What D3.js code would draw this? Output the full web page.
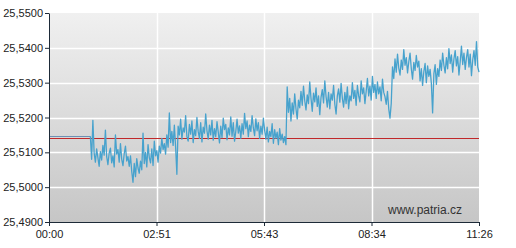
<!DOCTYPE html>
<html>
<head>
<meta charset="utf-8">
<script src="https://cdn.jsdelivr.net/npm/d3@7"></script>
<style>
  body { margin: 0; background: #fff; }
  svg { display: block; font-family: "Liberation Sans", Arial, sans-serif; }
</style>
</head>
<body>
<div id="chart"></div>
<script>
// values (minutes since 00:00)
const prevClose = 25.5146;          // flat line before trading starts
const flatMinutes = [0, 66];
const refLine = 25.5140;            // red line
const startMinute = 68;
const stepMinutes = 2;
const prices = [
  25.5080, 25.5192, 25.5098, 25.5072, 25.5110, 25.5085, 25.5060, 25.5102, 25.5078, 25.5120,
  25.5092, 25.5164, 25.5088, 25.5065, 25.5098, 25.5112, 25.5070, 25.5090, 25.5058, 25.5150,
  25.5095, 25.5108, 25.5072, 25.5125, 25.5080, 25.5062, 25.5096, 25.5118, 25.5075, 25.5088,
  25.5060, 25.5090, 25.5045, 25.5014, 25.5068, 25.5030, 25.5082, 25.5055, 25.5040, 25.5075,
  25.5050, 25.5155, 25.5068, 25.5100, 25.5058, 25.5122, 25.5085, 25.5070, 25.5110, 25.5062,
  25.5132, 25.5090, 25.5105, 25.5072, 25.5118, 25.5098, 25.5140, 25.5108, 25.5125, 25.5095,
  25.5150, 25.5115, 25.5213, 25.5128, 25.5160, 25.5120, 25.5178, 25.5115, 25.5037, 25.5175,
  25.5150, 25.5195, 25.5138, 25.5170, 25.5158, 25.5205, 25.5145, 25.5132, 25.5180, 25.5152,
  25.5190, 25.5128, 25.5165, 25.5148, 25.5200, 25.5160, 25.5140, 25.5185, 25.5130, 25.5172,
  25.5155, 25.5210, 25.5162, 25.5138, 25.5178, 25.5150, 25.5192, 25.5135, 25.5168, 25.5145,
  25.5188, 25.5158, 25.5127, 25.5175, 25.5142, 25.5198, 25.5165, 25.5180, 25.5136, 25.5170,
  25.5150, 25.5202, 25.5146, 25.5185, 25.5132, 25.5160, 25.5195, 25.5155, 25.5176, 25.5140,
  25.5182, 25.5152, 25.5212, 25.5168, 25.5190, 25.5145, 25.5178, 25.5160, 25.5205, 25.5170,
  25.5148, 25.5196, 25.5162, 25.5185, 25.5140, 25.5175, 25.5152, 25.5198, 25.5164, 25.5138,
  25.5172, 25.5130, 25.5160, 25.5145, 25.5182, 25.5126, 25.5165, 25.5140, 25.5158, 25.5122,
  25.5168, 25.5135, 25.5152, 25.5128, 25.5145, 25.5122, 25.5288, 25.5215, 25.5255, 25.5190,
  25.5242, 25.5210, 25.5268, 25.5225, 25.5196, 25.5250, 25.5228, 25.5275, 25.5235, 25.5290,
  25.5248, 25.5222, 25.5265, 25.5240, 25.5302, 25.5255, 25.5218, 25.5270, 25.5245, 25.5285,
  25.5232, 25.5262, 25.5208, 25.5258, 25.5280, 25.5242, 25.5305, 25.5260, 25.5230, 25.5272,
  25.5225, 25.5268, 25.5250, 25.5292, 25.5238, 25.5210, 25.5262, 25.5282, 25.5244, 25.5298,
  25.5255, 25.5230, 25.5272, 25.5240, 25.5288, 25.5225, 25.5262, 25.5248, 25.5300, 25.5255,
  25.5278, 25.5235, 25.5292, 25.5262, 25.5245, 25.5305, 25.5268, 25.5285, 25.5240, 25.5275,
  25.5312, 25.5262, 25.5290, 25.5250, 25.5318, 25.5272, 25.5295, 25.5255, 25.5302, 25.5268,
  25.5288, 25.5248, 25.5310, 25.5272, 25.5260, 25.5238, 25.5275, 25.5225, 25.5198, 25.5240,
  25.5345, 25.5312, 25.5368, 25.5330, 25.5382, 25.5342, 25.5322, 25.5365, 25.5338, 25.5395,
  25.5350, 25.5372, 25.5328, 25.5360, 25.5385, 25.5340, 25.5310, 25.5358, 25.5335, 25.5378,
  25.5345, 25.5362, 25.5305, 25.5340, 25.5292, 25.5332, 25.5355, 25.5300, 25.5348, 25.5318,
  25.5338, 25.5298, 25.5213, 25.5325, 25.5352, 25.5295, 25.5340, 25.5318, 25.5365, 25.5335,
  25.5385, 25.5350, 25.5328, 25.5372, 25.5340, 25.5398, 25.5355, 25.5380, 25.5330, 25.5368,
  25.5392, 25.5348, 25.5375, 25.5322, 25.5360, 25.5405, 25.5352, 25.5385, 25.5338, 25.5372,
  25.5395, 25.5345, 25.5382, 25.5320, 25.5365, 25.5392, 25.5350, 25.5418, 25.5345, 25.5330
];
const xTickMinutes = [0, 171.5, 343, 514.5, 686];
const xTickLabels = ["00:00", "02:51", "05:43", "08:34", "11:26"];
const yTicks = [25.49, 25.50, 25.51, 25.52, 25.53, 25.54, 25.55];

const W = 516, H = 248;
const margin = { top: 13, right: 37, bottom: 26, left: 49 };
const width = W - margin.left - margin.right;
const height = H - margin.top - margin.bottom;

const data = prices.map((v, i) => ({ t: startMinute + i * stepMinutes, v: v }));

const svg = d3.select("#chart").append("svg")
  .attr("width", W).attr("height", H);

const grad = svg.append("defs").append("linearGradient")
  .attr("id", "bg").attr("x1", 0).attr("y1", 0).attr("x2", 0).attr("y2", 1);
grad.append("stop").attr("offset", "0%").attr("stop-color", "#f0f0f0");
grad.append("stop").attr("offset", "100%").attr("stop-color", "#c6c6c6");

const g = svg.append("g").attr("transform", `translate(${margin.left},${margin.top})`);

const x = d3.scaleLinear().domain([0, 686]).range([0, width]);
const y = d3.scaleLinear().domain([25.49, 25.55]).range([height, 0]);

g.append("rect").attr("width", width).attr("height", height).attr("fill", "url(#bg)");

// grid
g.append("g").selectAll("line").data(yTicks.slice(1, -1)).enter().append("line")
  .attr("x1", 0).attr("x2", width)
  .attr("y1", d => Math.round(y(d)) + 0.5).attr("y2", d => Math.round(y(d)) + 0.5)
  .attr("stroke", "#fff").attr("stroke-width", 1.5);
g.append("g").selectAll("line").data(xTickMinutes.slice(1, -1)).enter().append("line")
  .attr("y1", 0).attr("y2", height)
  .attr("x1", d => Math.round(x(d)) + 0.5).attr("x2", d => Math.round(x(d)) + 0.5)
  .attr("stroke", "#fff").attr("stroke-width", 1.5);

// red reference line
g.append("line")
  .attr("x1", 0).attr("x2", width)
  .attr("y1", Math.round(y(refLine)) + 0.5).attr("y2", Math.round(y(refLine)) + 0.5)
  .attr("stroke", "#c0282a").attr("stroke-width", 1);

// flat part before first trade
g.append("line")
  .attr("x1", x(flatMinutes[0])).attr("x2", x(flatMinutes[1]))
  .attr("y1", Math.round(y(prevClose)) + 0.5).attr("y2", Math.round(y(prevClose)) + 0.5)
  .attr("stroke", "#6d8fb3").attr("stroke-width", 1);

const line = d3.line().x(d => x(d.t)).y(d => y(d.v));
g.append("path")
  .datum([{ t: flatMinutes[1], v: prevClose }].concat(data))
  .attr("fill", "none")
  .attr("stroke", "#47a2cd")
  .attr("stroke-width", 1.3)
  .attr("stroke-linejoin", "round")
  .attr("d", line);

// axes
const fmt = d => d3.format(".4f")(d).replace(".", ",");
const yAxis = g.append("g")
  .call(d3.axisLeft(y).tickValues(yTicks).tickFormat(fmt).tickSize(4).tickSizeOuter(0));
const xAxis = g.append("g").attr("transform", `translate(0,${height})`)
  .call(d3.axisBottom(x).tickValues(xTickMinutes)
    .tickFormat((d, i) => xTickLabels[i]).tickSize(4).tickSizeOuter(0));

[yAxis, xAxis].forEach(a => {
  a.select(".domain").attr("stroke", "#1d2a38");
  a.selectAll(".tick line").attr("stroke", "#1d2a38");
  a.selectAll("text").attr("fill", "#222").style("font-size", "11px")
    .style("font-family", "'Liberation Sans', Arial, sans-serif");
});
yAxis.selectAll("text").attr("x", -6);
xAxis.selectAll("text").attr("y", 8);

g.append("text")
  .attr("x", width - 17).attr("y", height - 8)
  .attr("text-anchor", "end")
  .attr("fill", "#333")
  .style("font-size", "12px")
  .text("www.patria.cz");
</script>
</body>
</html>
